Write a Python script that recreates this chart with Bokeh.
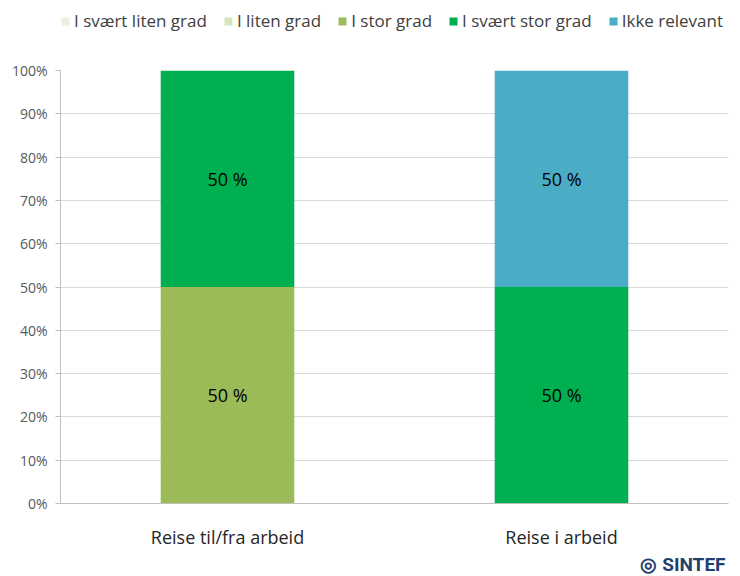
from bokeh.plotting import figure
from bokeh.layouts import column
from bokeh.models import ColumnDataSource, Legend, LegendItem, Title, FixedTicker, PrintfTickFormatter, Range1d
from bokeh.core.properties import value
from bokeh.embed import file_html
from bokeh.resources import INLINE

categories = ["Reise til/fra arbeid", "Reise i arbeid"]
series = ["I svært liten grad", "I liten grad", "I stor grad", "I svært stor grad", "Ikke relevant"]
svaert_liten = [0, 0]
liten = [0, 0]
stor = [50, 0]
svaert_stor = [50, 50]
ikke_relevant = [0, 50]
colors = ["#EBF1DE", "#D7E4BD", "#9BBB59", "#00B050", "#4BACC6"]
y_ticks = [0, 10, 20, 30, 40, 50, 60, 70, 80, 90, 100]

FONT = "Open Sans"

data = {"cat": categories}
keys = ["s0", "s1", "s2", "s3", "s4"]
for k, vals in zip(keys, [svaert_liten, liten, stor, svaert_stor, ikke_relevant]):
    data[k] = vals
source = ColumnDataSource(data)

# ---- legend strip (own small figure, bars kept out of view) ----
top = figure(x_range=categories, y_range=Range1d(1000, 1001), width=732, height=40,
             output_backend="svg", toolbar_location=None,
             x_axis_location=None, y_axis_location=None, min_border=0)
top.outline_line_color = None
top.xgrid.grid_line_color = None
top.ygrid.grid_line_color = None
lrs = top.vbar_stack(keys, x="cat", width=0.4, color=colors, source=source, line_color=None)
items = [LegendItem(label=s, renderers=[r]) for s, r in zip(series, lrs)]
legend = Legend(items=items, orientation="horizontal", location=(0, 8),
                border_line_color=None, background_fill_alpha=0,
                glyph_width=10, glyph_height=10, label_standoff=4, spacing=16,
                padding=0, margin=0, label_text_font=FONT,
                label_text_font_size="17px", label_text_color="#404040")
top.add_layout(legend)

# ---- main chart ----
p = figure(x_range=categories, y_range=Range1d(0, 100), width=732, height=536,
           output_backend="svg", toolbar_location=None,
           min_border_left=60, min_border_right=4, min_border_top=30, min_border_bottom=62)

p.vbar_stack(keys, x="cat", width=0.4, color=colors, source=source, line_color=None)

lx, ly, lt = [], [], []
for i, c in enumerate(categories):
    base = 0
    for k in keys:
        v = data[k][i]
        if v > 0:
            lx.append(c)
            ly.append(base + v / 2)
            lt.append(f"{v} %")
        base += v
p.text(x=lx, y=ly, text=lt, text_align="center", text_baseline="middle",
       text_font_size="18px", text_color="#000000", text_font=value(FONT))

p.xgrid.grid_line_color = None
p.ygrid.grid_line_color = "#D9D9D9"
p.outline_line_color = None

p.yaxis.ticker = FixedTicker(ticks=y_ticks)
p.yaxis.formatter = PrintfTickFormatter(format="%d%%")
p.yaxis.minor_tick_line_color = None
p.yaxis.major_tick_in = 0
p.yaxis.major_tick_out = 5
p.yaxis.axis_line_color = "#BFBFBF"
p.yaxis.major_tick_line_color = "#BFBFBF"
p.yaxis.major_label_text_font = FONT
p.yaxis.major_label_text_font_size = "14px"
p.yaxis.major_label_text_color = "#595959"
p.yaxis.major_label_standoff = 8

p.xaxis.axis_line_color = "#BFBFBF"
p.xaxis.major_tick_line_color = None
p.xaxis.major_label_text_font = FONT
p.xaxis.major_label_text_font_size = "18px"
p.xaxis.major_label_text_color = "#262626"
p.xaxis.major_label_standoff = 15

p.add_layout(Title(text="◎ SINTEF", align="right", vertical_align="middle",
                   text_font="Roboto", text_font_style="bold", text_font_size="19px",
                   text_color="#1F3F6E", standoff=0, offset=3), "below")

layout = column(top, p, spacing=0)
open("out.html", "w").write(file_html(layout, INLINE))
